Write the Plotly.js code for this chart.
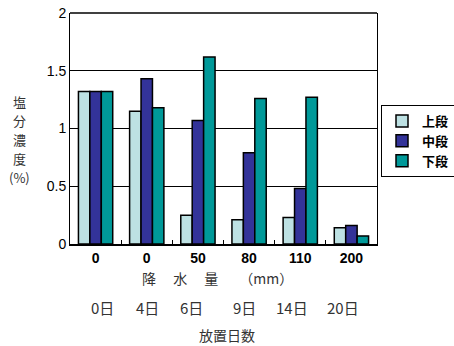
<!DOCTYPE html>
<html><head><meta charset="utf-8">
<script src="https://cdn.plot.ly/plotly-3.0.1.min.js"></script>
<style>html,body{margin:0;padding:0;background:#fff}</style>
</head><body><div id="chart" style="width:454px;height:346px"></div>
<script>
const categories = ['c0','c1','c2','c3','c4','c5'];
const rainLabels = ['0','0','50','80','110','200'];
const dayLabels = ['0日','4日','6日','9日','14日','20日'];
const upper = [1.32, 1.15, 0.25, 0.21, 0.23, 0.14];
const middle = [1.32, 1.43, 1.07, 0.79, 0.48, 0.16];
const lower = [1.32, 1.18, 1.62, 1.26, 1.27, 0.07];
const seriesNames = ['上段','中段','下段'];
const yTitleChars = ['塩','分','濃','度','(%)'];

const jp = '"Noto Sans CJK JP", "Noto Sans", sans-serif';
const lat = '"Liberation Sans", Arial, sans-serif';
const colors = ['#BDE1E3','#333399','#009999'];
const vals = [upper, middle, lower];
const traces = vals.map((v,i)=>({
  type:'bar', x:categories, y:v, name:seriesNames[i],
  marker:{color:colors[i], line:{color:'#000', width:1.5}}
}));

const L = 70, W = 307, B = 244, H = 231;
const px = x => (x - L) / W;
const py = y => (B - y) / H;

const dayPx = [102,147,191,244,292,343];
const annotations = dayLabels.map((t,i)=>({
  text:t, xref:'paper', yref:'paper', x:px(dayPx[i]), y:py(307),
  showarrow:false, xanchor:'center', yanchor:'middle',
  font:{family:jp, size:15, color:'#333'}
}));
annotations.push({
  text:'降　 水　 量　　（mm）', xref:'paper', yref:'paper', x:px(217), y:py(278),
  showarrow:false, xanchor:'center', yanchor:'middle', font:{family:jp, size:14, color:'#333'}
});
annotations.push({
  text:'放置日数', xref:'paper', yref:'paper', x:px(227), y:py(335),
  showarrow:false, xanchor:'center', yanchor:'middle', font:{family:jp, size:14, color:'#333'}
});
const yCharPx = [101,120,139,158,177];
yTitleChars.forEach((c,i)=>annotations.push({
  text:c, xref:'paper', yref:'paper', x:px(19), y:py(yCharPx[i]),
  showarrow:false, xanchor:'center', yanchor:'middle',
  font:{family:jp, size:13, color:'#333'}
}));

const layout = {
  width:454, height:346,
  margin:{l:70, r:77, t:13, b:102, autoexpand:false},
  paper_bgcolor:'#fff', plot_bgcolor:'#fff',
  barmode:'group', bargap:0.33, bargroupgap:0,
  showlegend:true,
  legend:{x:px(381), y:py(105), xanchor:'left', yanchor:'top',
    bordercolor:'#000', borderwidth:1, bgcolor:'#fff',
    font:{family:jp, size:13, color:'#000', weight:'bold'}, tracegroupgap:0, itemwidth:30},
  xaxis:{type:'category', tickvals:categories, ticktext:rainLabels, range:[-0.5,5.5],
    showline:true, linecolor:'#000', linewidth:2, ticks:'inside', tickson:'boundaries',
    ticklen:4, tickcolor:'#000', showgrid:false, fixedrange:true,
    tickfont:{family:lat, size:14, color:'#000', weight:'bold'}},
  yaxis:{range:[0,2], tickvals:[0,0.5,1,1.5,2], ticktext:['0','0.5','1','1.5','2'],
    showline:true, linecolor:'#000', linewidth:1, mirror:true, ticks:'',
    showgrid:true, gridcolor:'#000', gridwidth:1, zeroline:false,
    tickfont:{family:lat, size:14, color:'#000'}},
  shapes:[{type:'line', xref:'paper', yref:'paper', x0:0, x1:1, y0:1, y1:1, line:{color:'#000', width:1.5}}],
  annotations:annotations
};
Plotly.newPlot('chart', traces, layout, {displayModeBar:false, staticPlot:true});
</script></body></html>
